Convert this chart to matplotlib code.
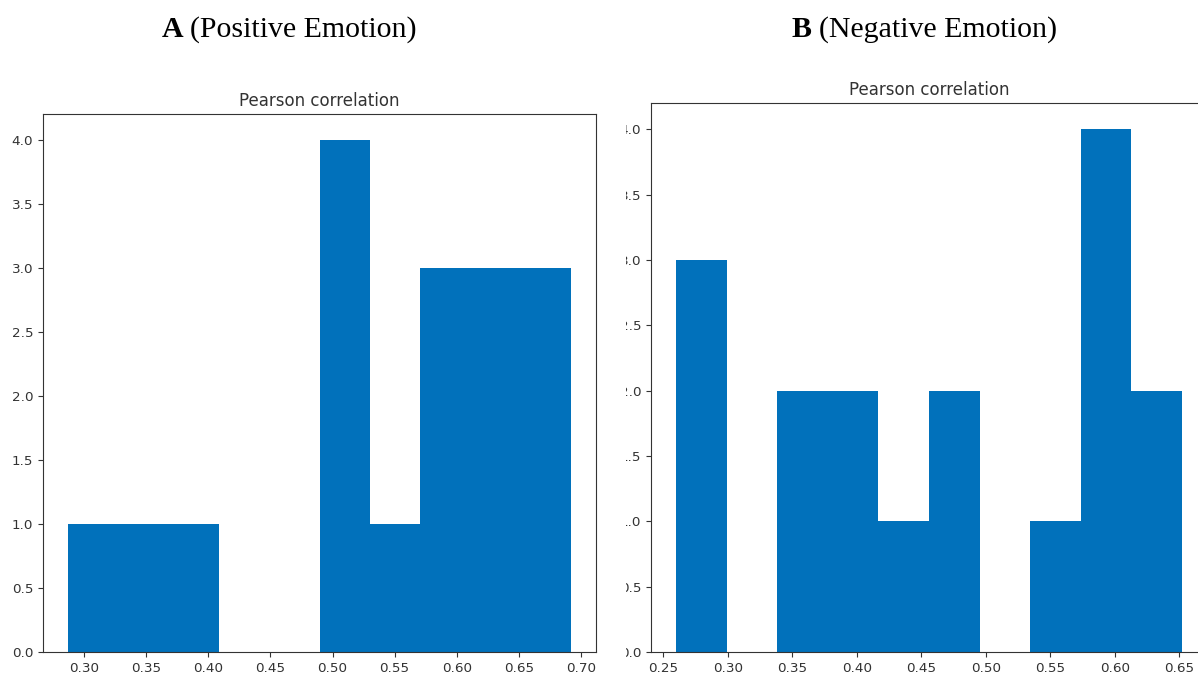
import numpy as np
import matplotlib
matplotlib.use('Agg')
import matplotlib.pyplot as plt
from matplotlib.transforms import Bbox

# histogram counts (10 bins each)
pos_range = (0.287, 0.692)
pos_counts = [1, 1, 1, 0, 0, 4, 1, 3, 3, 3]

neg_range = (0.260, 0.652)
neg_counts = [3, 0, 2, 2, 1, 2, 0, 1, 4, 2]

pos_xticks = [0.30, 0.35, 0.40, 0.45, 0.50, 0.55, 0.60, 0.65, 0.70]
neg_xticks = [0.25, 0.30, 0.35, 0.40, 0.45, 0.50, 0.55, 0.60, 0.65]
yticks = [0.0, 0.5, 1.0, 1.5, 2.0, 2.5, 3.0, 3.5, 4.0]

bar_color = '#0171bb'

fig = plt.figure(figsize=(11.98, 6.76), dpi=100)

ax1 = fig.add_axes([43/1198, 1-652/676, (596-43)/1198, (652-114)/676])
ax2 = fig.add_axes([651/1198, 1-652/676, (1207-651)/1198, (652-103)/676])

def draw_hist(ax, rng, counts, xticks):
    edges = np.linspace(rng[0], rng[1], len(counts) + 1)
    ax.hist(edges[:-1], bins=edges, weights=counts, color=bar_color)
    ax.set_xticks(xticks)
    ax.set_xticklabels(['%.2f' % t for t in xticks])
    ax.set_yticks(yticks)
    ax.set_yticklabels(['%.1f' % t for t in yticks])
    ax.tick_params(labelsize=9.7, colors='#333333', labelcolor='#333333')
    for s in ax.spines.values():
        s.set_color('#333333')
    ax.set_title('Pearson correlation', fontsize=12, color='#333333', pad=6)

draw_hist(ax1, pos_range, pos_counts, pos_xticks)
draw_hist(ax2, neg_range, neg_counts, neg_xticks)

# panel B is cut on the left in the original screenshot
fig.canvas.draw()
clip = Bbox([[626, 0], [1198, 676]])
for lab in ax2.get_yticklabels():
    lab.set_clip_box(clip)
    lab.set_clip_on(True)

def panel_title(x, letter, text):
    fig.text(x, 1-37/676, letter + ' ', ha='right', va='baseline',
             fontsize=21.5, fontweight='bold', family='Liberation Serif')
    fig.text(x, 1-37/676, text, ha='left', va='baseline',
             fontsize=21.5, family='Liberation Serif')

panel_title(190/1198, 'A', '(Positive Emotion)')
panel_title(819/1198, 'B', '(Negative Emotion)')

fig.savefig('out.png', dpi=100)
